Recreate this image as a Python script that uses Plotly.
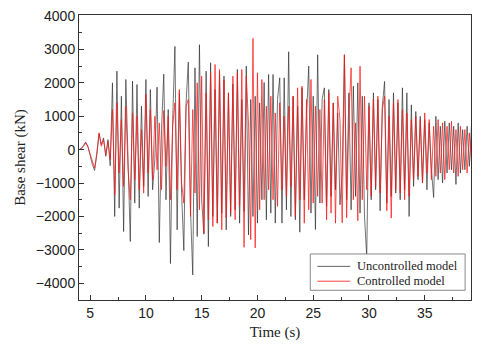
"""Base shear time history: uncontrolled vs controlled model."""

import numpy as np
import plotly.graph_objects as go

# sampling grid of the digitised record (s)
t_start = 4.0
t_step = 0.2

# base shear, uncontrolled model (kN), one value per 0.2 s
uncontrolled = [
    0, 40, 120, 230, 100, -200, -450, -620, -150, 480,
    150, 350, -200, 300, -480, 2000, -2000, 2350, -1750, 1600,
    -2450, 2100, -800, -2750, 2050, -1600, 1950, -1750, 1300, -1100,
    2100, -1400, 1800, -1200, -300, 1870, -2780, 600, 2260, -1500,
    1200, -3410, 900, 3090, -2400, 1700, -1300, -3020, 1400, 2620,
    -1800, -3750, 2450, -2600, 3140, -1500, -2530, 2350, -2900, 2600,
    -2000, 1800, -2200, 2300, -1900, 2200, -2400, 1700, -2000, 1960,
    -1800, 2400, -2200, 1500, -1850, 2500, -2550, 1500, -2000, 1600,
    -2200, 1400, -1500, 2010, -2100, 2250, -1900, 2250, -2200, 1500,
    2150, -2200, 2150, -1800, 2930, -2000, 1600, -2100, 1300, -2470,
    1850, -1500, 1000, 2500, -1900, 1600, -2390, 2840, -1600, 1500,
    1850, -1700, 1800, -1400, 1400, -1200, 1100, -1650, -700, 2840,
    -1500, 1700, -1800, 1900, -1400, 2000, -1900, 1600, -2000, -3200,
    1400, -1500, 1700, -1200, 1500, -1830, 1300, 2040, -1600, 1500,
    -1400, 1700, -1300, 1400, -1500, 1850, -1200, 1700, -2000, 1340,
    -1100, 1140, -900, 1000, -1000, 900, -1200, 800, -600, -1430,
    1000, -900, 700, -1000, 850, -700, 800, -600, 700, -1040,
    800, -700, 600, -600, 700, -500, 770,
]

# base shear, controlled model (kN)
controlled = [
    0, 20, 100, 200, 80, -150, -400, -550, -100, 500,
    100, 300, -150, 250, -300, 1200, -1350, 1400, -700, 900,
    -1100, 1300, -600, -1500, 1100, -900, 1000, -1200, 600, -1300,
    1650, -700, 1200, -900, 1000, -600, 800, -1200, 1170, -500,
    1000, -1500, 700, 1400, -1200, 1800, -1000, -1600, 1300, 1500,
    -2000, 1200, -1300, 2000, -1800, 2200, -2500, 1700, -2100, 2300,
    -2300, 2550, -2200, 2400, -2400, 2080, -2040, 1700, -1900, 2200,
    -2100, 2300, -1700, 2400, -2920, 2200, 800, -2690, 3330, -2940,
    2300, -1800, 2100, -1500, 1300, -1200, 1600, -1500, 1100, -1700,
    1400, -1200, 1000, -1400, 1300, -1100, 1600, -2000, 1850, -1500,
    1900, -2200, 1500, -1800, 2100, -1600, 1300, -1400, 1200, -1600,
    1500, -2100, 1700, -1900, 1400, -2200, 1600, 900, -2190, 2840,
    -2040, 1000, 2450, -1500, 800, -2130, 2500, -1500, 1600, -1200,
    1300, -1400, 1500, -1100, 1600, -1300, 1200, 1600, -1830, 1000,
    -2050, 1400, -1200, 1500, -1300, 1200, -1500, 1100, -1400, 900,
    -900, 1000, -800, 900, -1000, 1100, -700, 900, -900, 700,
    -800, 900, -700, 800, -900, 700, -600, 850, -700, 600,
    -800, 700, -600, 600, -700, 500, -400,
]

series_names = ["Uncontrolled model", "Controlled model"]
series_colors = ["rgba(40,40,40,0.72)", "rgba(255,20,20,0.8)"]

time_s = np.round(t_start + t_step * np.arange(len(uncontrolled)), 2)

x_ticks = [5, 10, 15, 20, 25, 30, 35]
y_ticks = [-4000, -3000, -2000, -1000, 0, 1000, 2000, 3000, 4000]

fig = go.Figure()
for name, values, color in zip(series_names, [uncontrolled, controlled], series_colors):
    fig.add_trace(
        go.Scatter(
            x=time_s,
            y=values,
            mode="lines",
            name=name,
            line=dict(color=color, width=0.9),
            showlegend=False,
        )
    )

axis_common = dict(
    showline=True,
    mirror=True,
    linecolor="#333333",
    linewidth=1,
    showgrid=False,
    zeroline=False,
    ticks="inside",
    ticklen=5,
    tickcolor="#333333",
    tickfont=dict(family="Liberation Sans", size=14, color="#222222"),
)

fig.update_xaxes(
    range=[4, 39.15],
    tickvals=x_ticks,
    minor=dict(ticks="inside", ticklen=3, dtick=2.5, tick0=2.5, tickcolor="#333333"),
    title=dict(text="Time (s)", font=dict(family="Liberation Serif", size=15, color="#222222"), standoff=6),
    **axis_common,
)
fig.update_yaxes(
    range=[-4500, 4030],
    tickvals=y_ticks,
    minor=dict(ticks="inside", ticklen=3, dtick=500, tick0=0, tickcolor="#333333"),
    title=dict(text="Base shear (kN)", font=dict(family="Liberation Serif", size=15, color="#222222"), standoff=6),
    **axis_common,
)

# compact legend box, drawn by hand so its rows sit as close as in the original
fig.add_shape(
    type="rect", xref="paper", yref="paper",
    x0=0.590, x1=0.985, y0=0.034, y1=0.1615,
    fillcolor="white", line=dict(color="#888888", width=1), layer="above",
)
for i, (name, color) in enumerate(zip(series_names, series_colors)):
    row_y = 0.118 - i * 0.052
    fig.add_shape(
        type="line", xref="paper", yref="paper",
        x0=0.608, x1=0.692, y0=row_y, y1=row_y,
        line=dict(color=color, width=1), layer="above",
    )
    fig.add_annotation(
        x=0.705, y=row_y, xref="paper", yref="paper",
        text=name, showarrow=False, xanchor="left", yanchor="middle",
        font=dict(family="Liberation Serif", size=12.5, color="#222222"),
    )

fig.update_layout(
    width=480,
    height=345,
    margin=dict(l=79, r=8, t=10, b=44),
    plot_bgcolor="white",
    paper_bgcolor="white",
)

# page body margin would push the figure 8 px off its place
fig.write_html(
    "out.html",
    config={"displayModeBar": False},
    post_script="document.body.style.margin='0';",
)
